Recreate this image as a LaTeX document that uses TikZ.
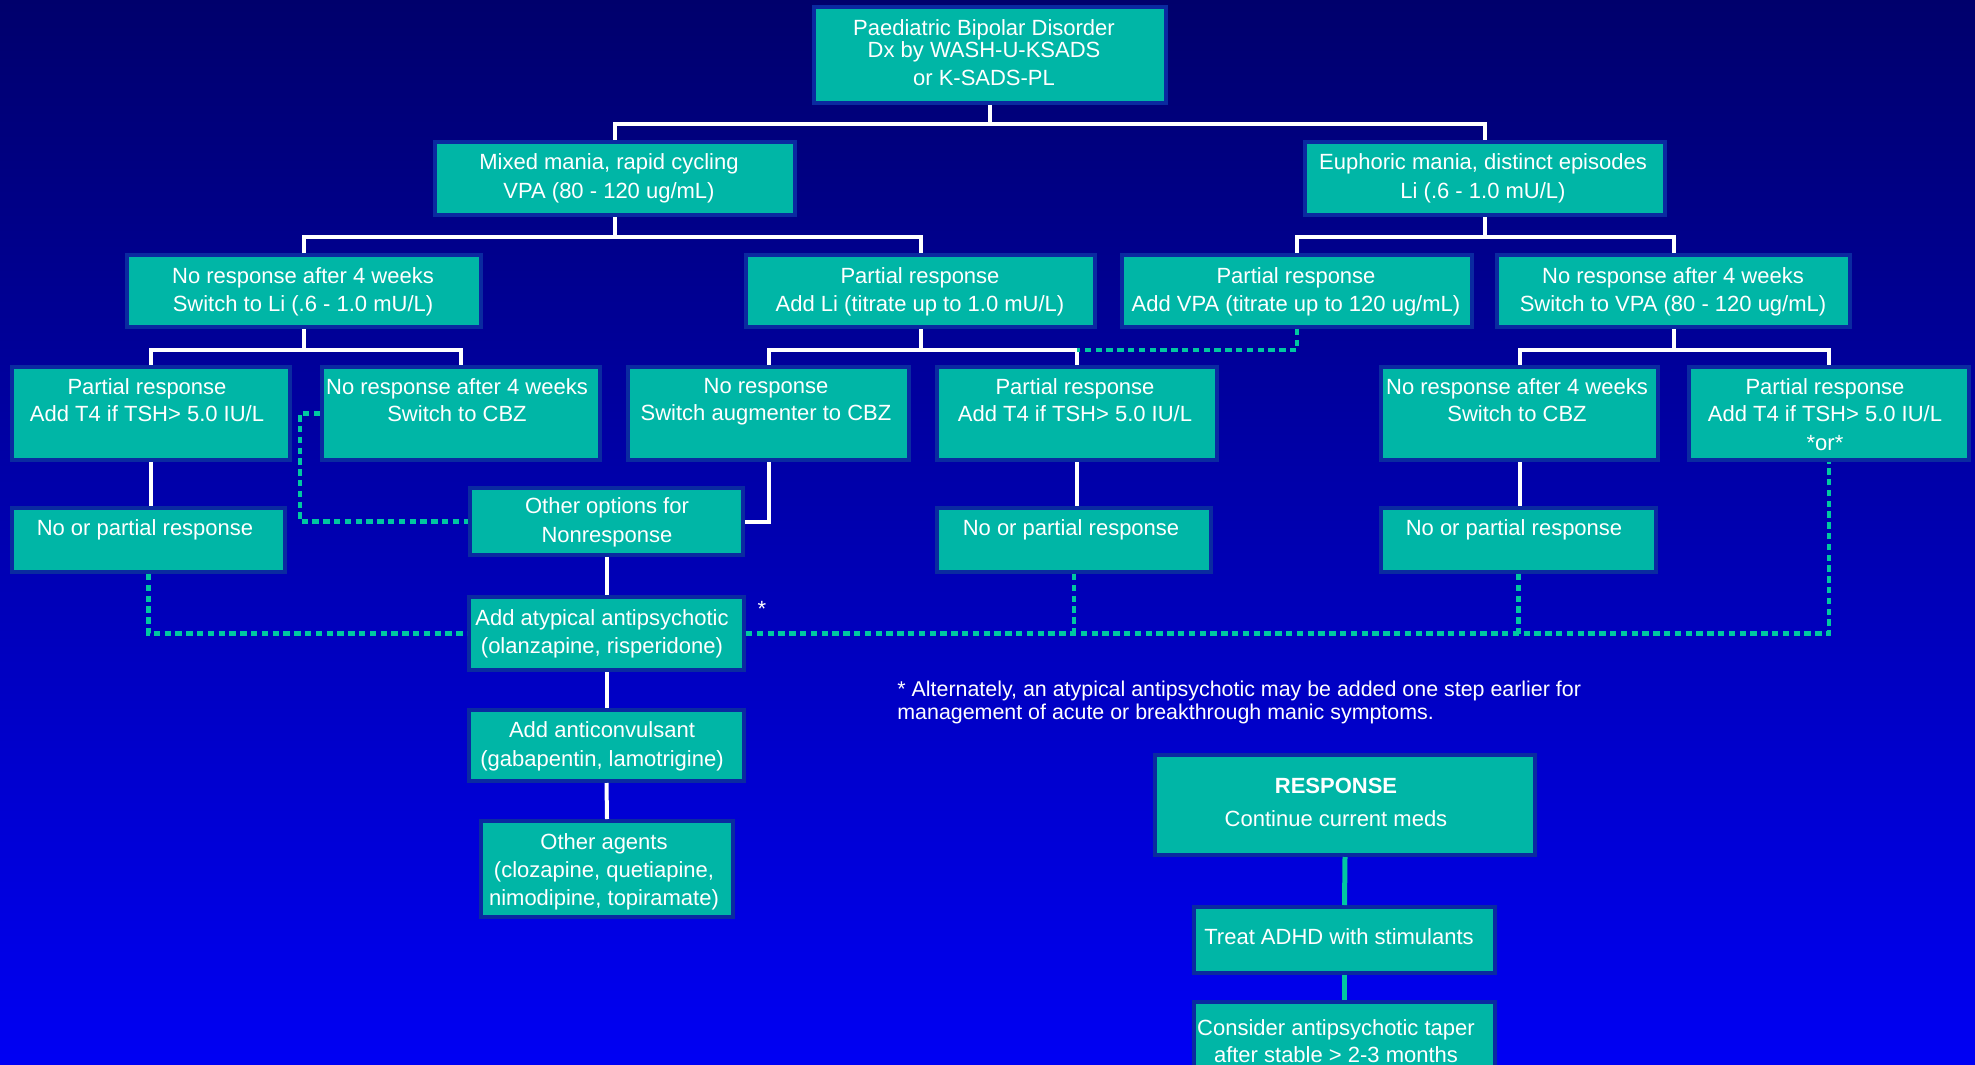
\documentclass[tikz,border=0pt]{standalone}
\usepackage{fontspec}
\setmainfont{Liberation Sans}
\usetikzlibrary{fit,calc}
\definecolor{bgtop}{RGB}{0,0,108}
\definecolor{bgbot}{RGB}{0,0,244}
\definecolor{boxfill}{RGB}{0,182,166}
\definecolor{boxline}{RGB}{10,42,160}
\definecolor{tealline}{RGB}{0,200,160}
\tikzset{
  box/.style={draw=boxline, fill=boxfill, line width=2pt, inner sep=0pt},
  txt/.style={text=white, align=center, inner sep=0pt, anchor=north, font=\fontsize{11}{14}\selectfont},
  wline/.style={draw=white, line width=2pt},
  dline/.style={draw=tealline, line width=2.3pt, dash pattern=on 3.2pt off 2.2pt},
  tline/.style={draw=tealline, line width=2.5pt},
}
\begin{document}
\begin{tikzpicture}[x=0.5pt,y=-0.5pt]
\useasboundingbox (0,0) rectangle (1975,1065);
\clip (0,0) rectangle (1975,1065);
\shade[top color=bgtop, bottom color=bgbot] (0,0) rectangle (1975,1065);

% boxes
\node[box, fit={(814,7)(1166,103)}] (root) {};
\node[box, fit={(435,142)(795,215)}] (mixed) {};
\node[box, fit={(1305,142)(1665,215)}] (euph) {};
\node[box, fit={(127,255)(481,327)}] (nr1) {};
\node[box, fit={(746,255)(1095,327)}] (pli) {};
\node[box, fit={(1122,255)(1472,327)}] (pvpa) {};
\node[box, fit={(1497,255)(1850,327)}] (nr2) {};
\node[box, fit={(12,367)(290,460)}] (pt1) {};
\node[box, fit={(322,367)(600,460)}] (cbz1) {};
\node[box, fit={(628,367)(909,460)}] (nra) {};
\node[box, fit={(937,367)(1217,460)}] (pt2) {};
\node[box, fit={(1381,367)(1658,460)}] (cbz2) {};
\node[box, fit={(1689,367)(1969,460)}] (pt3) {};
\node[box, fit={(12,508)(285,572)}] (np1) {};
\node[box, fit={(937,508)(1211,572)}] (np2) {};
\node[box, fit={(1381,508)(1656,572)}] (np3) {};
\node[box, fit={(470,488)(743,555)}] (other) {};
\node[box, fit={(469,597)(744,670)}] (atyp) {};
\node[box, fit={(469,710)(744,781)}] (anti) {};
\node[box, fit={(481,821)(733,917)}] (agents) {};
\node[box, fit={(1155,755)(1535,855)}] (resp) {};
\node[box, fit={(1194,907)(1495,973)}] (treat) {};
\node[box, fit={(1194,1002)(1495,1100)}] (cons) {};

% bar levels
\coordinate (bar1) at (0,124);
\coordinate (bar2) at (0,237);
\coordinate (bar3) at (0,350);

% white connectors
\draw[wline] (root.south) -- (root.south |- bar1);
\draw[wline] (mixed.north) -- (mixed.north |- bar1) -- (euph.north |- bar1) -- (euph.north);
\draw[wline] (mixed.south) -- (mixed.south |- bar2);
\draw[wline] (nr1.north) -- (nr1.north |- bar2) -- (pli.north |- bar2) -- (pli.north);
\draw[wline] (euph.south) -- (euph.south |- bar2);
\draw[wline] (pvpa.north) -- (pvpa.north |- bar2) -- (nr2.north |- bar2) -- (nr2.north);
\draw[wline] (nr1.south) -- (nr1.south |- bar3);
\draw[wline] (pt1.north) -- (pt1.north |- bar3) -- (cbz1.north |- bar3) -- (cbz1.north);
\draw[wline] (pli.south) -- (pli.south |- bar3);
\draw[wline] (nra.north) -- (nra.north |- bar3) -- (pt2.north |- bar3) -- (pt2.north);
\draw[wline] (nr2.south) -- (nr2.south |- bar3);
\draw[wline] (cbz2.north) -- (cbz2.north |- bar3) -- (pt3.north |- bar3) -- (pt3.north);
\draw[wline] (pt1.south) -- (pt1.south |- np1.north);
\draw[wline] (nra.south) |- (other.east);
\draw[wline] (pt2.south) -- (pt2.south |- np2.north);
\draw[wline] (cbz2.south) -- (cbz2.south |- np3.north);
\draw[wline] (other.south) -- (atyp.north);
\draw[wline] (atyp.south) -- (anti.north);
\draw[wline] (anti.south) -- (agents.north);

% dotted connectors
\draw[dline] (pvpa.south) |- (pt2.north |- bar3);
\draw[dline] (cbz1.west) -- ++(-20,0) |- (other.west);
\draw[dline] (np1.south) |- (atyp.west);
\draw[dline] (atyp.east) -| (pt3.south);
\draw[dline] (np2.south) -- (np2.south |- atyp.east);
\draw[dline] (np3.south) -- (np3.south |- atyp.east);

% teal connectors
\draw[tline] (resp.south) -- (treat.north);
\draw[tline] (treat.south) -- (cons.north);

% texts
\node[txt] (root-t) at (984,19) {Paediatric Bipolar Disorder\\[-3pt]Dx by WASH-U-KSADS\\or K-SADS-PL};
\node[txt] (mixed-t) at (609,153) {Mixed mania, rapid cycling\\[0.5pt]VPA (80 -  120 ug/mL)};
\node[txt] (euph-t) at (1483,153) {Euphoric mania, distinct episodes\\[0.5pt]Li (.6 - 1.0 mU/L)};
\node[txt] (nr1-t) at (303,267) {No response after 4 weeks\\Switch to Li (.6 - 1.0 mU/L)};
\node[txt] (pli-t) at (920,267) {Partial response\\Add Li (titrate up to 1.0 mU/L)};
\node[txt] (pvpa-t) at (1296,267) {Partial response\\Add VPA (titrate up to 120 ug/mL)};
\node[txt] (nr2-t) at (1673,267) {No response after 4 weeks\\Switch to VPA (80 - 120 ug/mL)};
\node[txt] (pt1-t) at (147,378) {Partial response\\[-0.5pt]Add T4 if TSH> 5.0 IU/L};
\node[txt] (cbz1-t) at (457,378) {No response after 4 weeks\\[-0.5pt]Switch to CBZ};
\node[txt] (nra-t) at (766,378) {No response\\[-0.5pt]Switch augmenter to CBZ};
\node[txt] (pt2-t) at (1075,378) {Partial response\\[-0.5pt]Add T4 if TSH> 5.0 IU/L};
\node[txt] (cbz2-t) at (1517,378) {No response after 4 weeks\\[-0.5pt]Switch to CBZ};
\node[txt] (pt3-t) at (1825,378) {Partial response\\[-0.5pt]Add T4 if TSH> 5.0 IU/L\\[0.5pt]*or*};
\node[txt] (np1-t) at (145,519) {No or partial response};
\node[txt] (np2-t) at (1071,519) {No or partial response};
\node[txt] (np3-t) at (1514,519) {No or partial response};
\node[txt] (other-t) at (607,497) {Other options for\\[0.5pt]Nonresponse};
\node[txt] (atyp-t) at (602,609) {Add atypical antipsychotic\\(olanzapine, risperidone)};
\node[txt] (anti-t) at (602,721) {Add anticonvulsant\\[0.5pt](gabapentin, lamotrigine)};
\node[txt] (agents-t) at (604,833) {Other agents\\(clozapine, quetiapine,\\nimodipine, topiramate)};
\node[text=white, inner sep=0pt, font=\fontsize{11}{14}\selectfont] (star) at (762,609) {*};
\node[txt, anchor=north west, align=left, font=\fontsize{10.7}{11.5}\selectfont] (note) at (897,681)
  {* Alternately, an atypical antipsychotic may be added one step earlier for\\management of acute or breakthrough manic symptoms.};
\node[txt] (resp-t) at (1336,778) {\textbf{RESPONSE}\\[2.5pt]Continue current meds};
\node[txt] (treat-t) at (1339,928) {Treat ADHD with stimulants};
\node[txt] (cons-t) at (1336,1019) {Consider antipsychotic taper\\[-0.5pt]after stable > 2-3 months};
\end{tikzpicture}
\end{document}
